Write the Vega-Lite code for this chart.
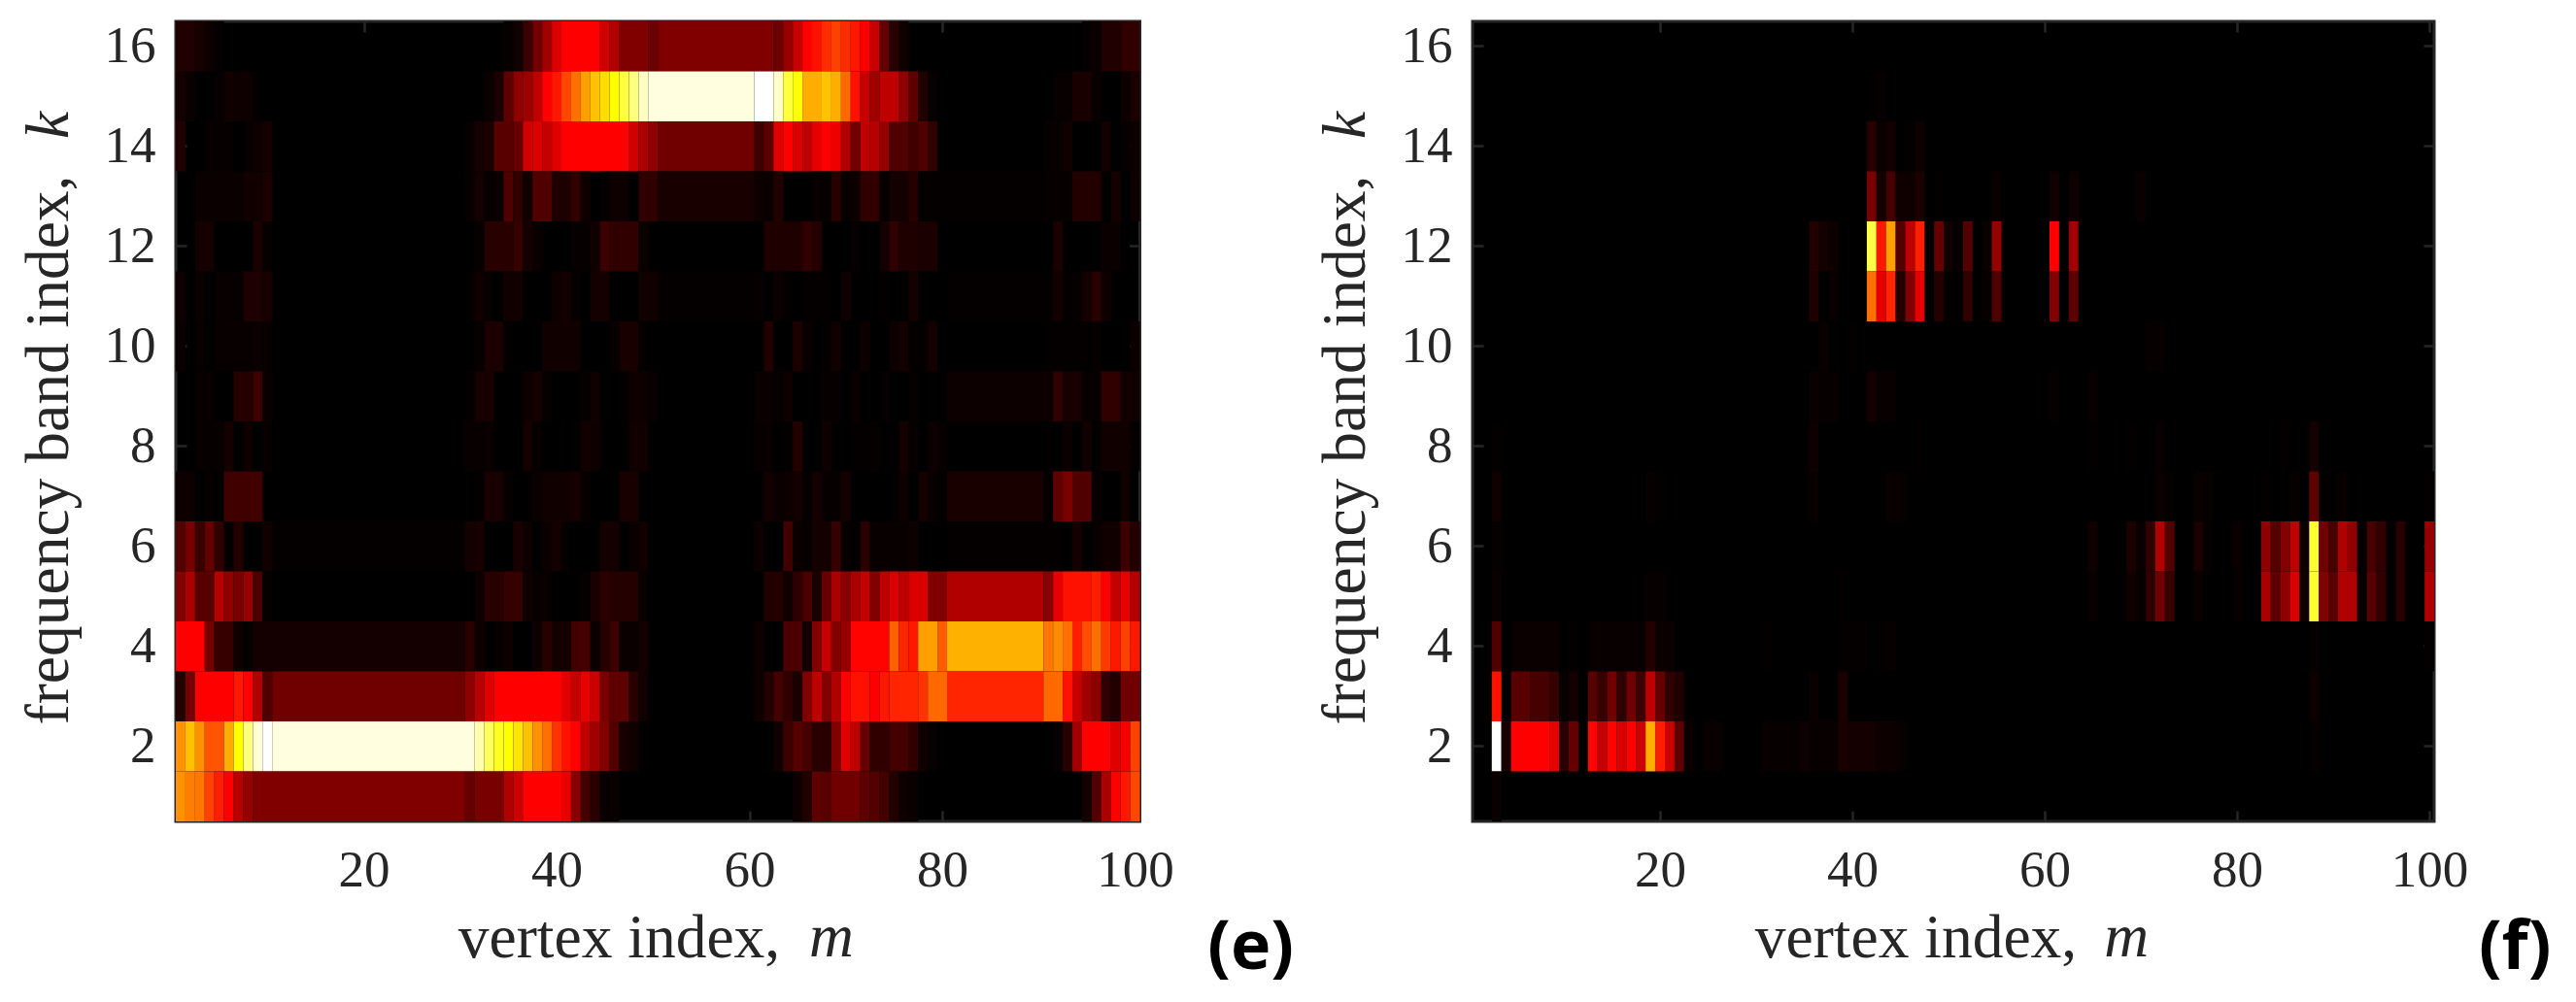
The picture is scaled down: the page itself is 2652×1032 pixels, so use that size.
{"$schema":"https://vega.github.io/schema/vega-lite/v6.json","background":"white","padding":{"left":16,"top":19,"right":0,"bottom":0},"bounds":"flush","spacing":342,
"config":{"view":{"fill":"#000","stroke":"#262626","strokeWidth":3},"font":"Liberation Serif","axis":{"grid":false,"domain":false,"tickColor":"#262626","tickWidth":2.5,"tickSize":-11,"labelFont":"Liberation Serif","labelFontSize":53,"labelColor":"#262626","titleFont":"Liberation Serif","titleFontSize":63.5,"titleFontWeight":"normal","titleColor":"#262626","zindex":1}},
"hconcat":[{"width":992.5,"height":824,"data":{"values":[
{"k":16,"a":0.5,"b":2.5,"v":4.7},{"k":16,"a":2.5,"b":3.5,"v":3.5},{"k":16,"a":3.5,"b":4.5,"v":2},{"k":16,"a":4.5,"b":5.5,"v":1},{"k":16,"a":34.5,"b":35.5,"v":1},{"k":16,"a":35.5,"b":36.5,"v":2.5},{"k":16,"a":36.5,"b":37.5,"v":8.5},{"k":16,"a":37.5,"b":38.5,"v":16.5},{"k":16,"a":38.5,"b":39.5,"v":23.5},{"k":16,"a":39.5,"b":40.5,"v":31.8},{"k":16,"a":40.5,"b":44.5,"v":37.5},{"k":16,"a":44.5,"b":45.5,"v":30.6},{"k":16,"a":45.5,"b":46.5,"v":26},{"k":16,"a":46.5,"b":49.5,"v":18.8},{"k":16,"a":49.5,"b":50.5,"v":15.6},{"k":16,"a":50.5,"b":62.5,"v":18.8},{"k":16,"a":62.5,"b":63.5,"v":16},{"k":16,"a":63.5,"b":64.5,"v":22.3},{"k":16,"a":64.5,"b":65.5,"v":29.4},{"k":16,"a":65.5,"b":66.5,"v":37.5},{"k":16,"a":66.5,"b":67.5,"v":40},{"k":16,"a":67.5,"b":68.5,"v":44},{"k":16,"a":68.5,"b":69.5,"v":47},{"k":16,"a":69.5,"b":70.5,"v":44},{"k":16,"a":70.5,"b":71.5,"v":41},{"k":16,"a":71.5,"b":72.5,"v":37.5},{"k":16,"a":72.5,"b":73.5,"v":29.4},{"k":16,"a":73.5,"b":74.5,"v":14.7},{"k":16,"a":74.5,"b":75.5,"v":5.9},{"k":16,"a":75.5,"b":76.5,"v":2.4},{"k":16,"a":94.5,"b":95.5,"v":1},{"k":16,"a":95.5,"b":96.5,"v":1.5},{"k":16,"a":96.5,"b":98.5,"v":4.7},{"k":16,"a":98.5,"b":100.5,"v":7},
{"k":15,"a":0.5,"b":1.5,"v":3},{"k":15,"a":1.5,"b":2.5,"v":1.5},{"k":15,"a":4.5,"b":5.5,"v":1},{"k":15,"a":5.5,"b":6.5,"v":2.5},{"k":15,"a":6.5,"b":8.5,"v":2},{"k":15,"a":8.5,"b":9.5,"v":0.7},{"k":15,"a":32.5,"b":33.5,"v":1.5},{"k":15,"a":33.5,"b":34.5,"v":4},{"k":15,"a":34.5,"b":35.5,"v":14},{"k":15,"a":35.5,"b":36.5,"v":21},{"k":15,"a":36.5,"b":37.5,"v":23},{"k":15,"a":37.5,"b":38.5,"v":28},{"k":15,"a":38.5,"b":39.5,"v":37.5},{"k":15,"a":39.5,"b":40.5,"v":41},{"k":15,"a":40.5,"b":41.5,"v":48},{"k":15,"a":41.5,"b":42.5,"v":54},{"k":15,"a":42.5,"b":43.5,"v":61},{"k":15,"a":43.5,"b":44.5,"v":66},{"k":15,"a":44.5,"b":45.5,"v":70},{"k":15,"a":45.5,"b":46.5,"v":75},{"k":15,"a":46.5,"b":47.5,"v":81},{"k":15,"a":47.5,"b":48.5,"v":87.5},{"k":15,"a":48.5,"b":49.5,"v":94},{"k":15,"a":49.5,"b":60.5,"v":97},{"k":15,"a":60.5,"b":62.5,"v":100},{"k":15,"a":62.5,"b":63.5,"v":95},{"k":15,"a":63.5,"b":64.5,"v":81},{"k":15,"a":64.5,"b":65.5,"v":75},{"k":15,"a":65.5,"b":67.5,"v":63},{"k":15,"a":67.5,"b":68.5,"v":66},{"k":15,"a":68.5,"b":69.5,"v":63},{"k":15,"a":69.5,"b":70.5,"v":53},{"k":15,"a":70.5,"b":71.5,"v":40},{"k":15,"a":71.5,"b":72.5,"v":29},{"k":15,"a":72.5,"b":73.5,"v":23.5},{"k":15,"a":73.5,"b":75.5,"v":28},{"k":15,"a":75.5,"b":76.5,"v":21},{"k":15,"a":76.5,"b":77.5,"v":14},{"k":15,"a":77.5,"b":78.5,"v":4.7},{"k":15,"a":78.5,"b":79.5,"v":1},{"k":15,"a":91.5,"b":92.5,"v":1},{"k":15,"a":92.5,"b":93.5,"v":1.2},{"k":15,"a":93.5,"b":95.5,"v":3.5},{"k":15,"a":95.5,"b":96.5,"v":1.2},{"k":15,"a":98.5,"b":99.5,"v":2},{"k":15,"a":99.5,"b":100.5,"v":4},
{"k":14,"a":0.5,"b":1.5,"v":4.7},{"k":14,"a":3.5,"b":6.5,"v":1},{"k":14,"a":7.5,"b":8.5,"v":1},{"k":14,"a":8.5,"b":9.5,"v":2},{"k":14,"a":9.5,"b":10.5,"v":3},{"k":14,"a":30.5,"b":31.5,"v":1},{"k":14,"a":31.5,"b":32.5,"v":3},{"k":14,"a":32.5,"b":33.5,"v":4},{"k":14,"a":33.5,"b":35.5,"v":13},{"k":14,"a":35.5,"b":36.5,"v":15},{"k":14,"a":36.5,"b":37.5,"v":30.6},{"k":14,"a":37.5,"b":38.5,"v":32},{"k":14,"a":38.5,"b":39.5,"v":29},{"k":14,"a":39.5,"b":40.5,"v":33},{"k":14,"a":40.5,"b":47.5,"v":37.5},{"k":14,"a":47.5,"b":48.5,"v":31},{"k":14,"a":48.5,"b":49.5,"v":25},{"k":14,"a":49.5,"b":50.5,"v":21},{"k":14,"a":50.5,"b":60.5,"v":16.5},{"k":14,"a":60.5,"b":61.5,"v":9.4},{"k":14,"a":61.5,"b":62.5,"v":14},{"k":14,"a":62.5,"b":63.5,"v":33},{"k":14,"a":63.5,"b":64.5,"v":37.5},{"k":14,"a":64.5,"b":65.5,"v":32},{"k":14,"a":65.5,"b":66.5,"v":28},{"k":14,"a":66.5,"b":67.5,"v":34},{"k":14,"a":67.5,"b":68.5,"v":37.5},{"k":14,"a":68.5,"b":69.5,"v":35},{"k":14,"a":69.5,"b":70.5,"v":26},{"k":14,"a":70.5,"b":71.5,"v":16.5},{"k":14,"a":71.5,"b":72.5,"v":28},{"k":14,"a":72.5,"b":73.5,"v":27},{"k":14,"a":73.5,"b":74.5,"v":22},{"k":14,"a":74.5,"b":76.5,"v":11.8},{"k":14,"a":76.5,"b":77.5,"v":9.4},{"k":14,"a":77.5,"b":78.5,"v":11.8},{"k":14,"a":78.5,"b":79.5,"v":7},{"k":14,"a":90.5,"b":92.5,"v":1},{"k":14,"a":92.5,"b":93.5,"v":2.5},{"k":14,"a":96.5,"b":97.5,"v":3},{"k":14,"a":98.5,"b":99.5,"v":1},{"k":14,"a":99.5,"b":100.5,"v":2},
{"k":13,"a":2.5,"b":7.5,"v":1.5},{"k":13,"a":7.5,"b":9.5,"v":2.5},{"k":13,"a":9.5,"b":10.5,"v":4},{"k":13,"a":30.5,"b":31.5,"v":1},{"k":13,"a":31.5,"b":32.5,"v":3},{"k":13,"a":32.5,"b":33.5,"v":1},{"k":13,"a":33.5,"b":34.5,"v":1.5},{"k":13,"a":34.5,"b":35.5,"v":11.8},{"k":13,"a":35.5,"b":36.5,"v":7},{"k":13,"a":36.5,"b":37.5,"v":2.5},{"k":13,"a":37.5,"b":39.5,"v":11.8},{"k":13,"a":39.5,"b":41.5,"v":4.5},{"k":13,"a":41.5,"b":42.5,"v":7},{"k":13,"a":42.5,"b":43.5,"v":2},{"k":13,"a":44.5,"b":45.5,"v":1},{"k":13,"a":45.5,"b":47.5,"v":2},{"k":13,"a":48.5,"b":50.5,"v":7},{"k":13,"a":50.5,"b":60.5,"v":3.5},{"k":13,"a":60.5,"b":61.5,"v":2},{"k":13,"a":61.5,"b":62.5,"v":1.5},{"k":13,"a":62.5,"b":63.5,"v":4.7},{"k":13,"a":66.5,"b":68.5,"v":1},{"k":13,"a":68.5,"b":69.5,"v":6},{"k":13,"a":69.5,"b":70.5,"v":1},{"k":13,"a":70.5,"b":71.5,"v":2},{"k":13,"a":71.5,"b":73.5,"v":7},{"k":13,"a":73.5,"b":74.5,"v":1},{"k":13,"a":74.5,"b":76.5,"v":3},{"k":13,"a":76.5,"b":77.5,"v":5.5},{"k":13,"a":77.5,"b":90.5,"v":0.7},{"k":13,"a":90.5,"b":93.5,"v":1},{"k":13,"a":93.5,"b":96.5,"v":5},{"k":13,"a":97.5,"b":98.5,"v":3},{"k":13,"a":99.5,"b":100.5,"v":2},
{"k":12,"a":2.5,"b":4.5,"v":3},{"k":12,"a":8.5,"b":9.5,"v":4},{"k":12,"a":9.5,"b":10.5,"v":1},{"k":12,"a":31.5,"b":32.5,"v":1},{"k":12,"a":32.5,"b":35.5,"v":6},{"k":12,"a":35.5,"b":36.5,"v":8},{"k":12,"a":36.5,"b":37.5,"v":3},{"k":12,"a":37.5,"b":38.5,"v":1.5},{"k":12,"a":41.5,"b":43.5,"v":1},{"k":12,"a":43.5,"b":44.5,"v":2.5},{"k":12,"a":44.5,"b":45.5,"v":9},{"k":12,"a":45.5,"b":48.5,"v":7},{"k":12,"a":48.5,"b":49.5,"v":1.5},{"k":12,"a":61.5,"b":65.5,"v":4.5},{"k":12,"a":65.5,"b":66.5,"v":7},{"k":12,"a":66.5,"b":67.5,"v":5},{"k":12,"a":70.5,"b":71.5,"v":1},{"k":12,"a":73.5,"b":74.5,"v":3},{"k":12,"a":74.5,"b":75.5,"v":7},{"k":12,"a":75.5,"b":77.5,"v":4.5},{"k":12,"a":77.5,"b":79.5,"v":4},{"k":12,"a":91.5,"b":92.5,"v":4},{"k":12,"a":96.5,"b":98.5,"v":1.5},
{"k":11,"a":0.5,"b":1.5,"v":2},{"k":11,"a":2.5,"b":3.5,"v":1.5},{"k":11,"a":4.5,"b":5.5,"v":1.2},{"k":11,"a":5.5,"b":7.5,"v":1},{"k":11,"a":7.5,"b":9.5,"v":4.5},{"k":11,"a":9.5,"b":10.5,"v":3.5},{"k":11,"a":30.5,"b":31.5,"v":0.7},{"k":11,"a":31.5,"b":32.5,"v":2.5},{"k":11,"a":32.5,"b":33.5,"v":1},{"k":11,"a":34.5,"b":36.5,"v":2.5},{"k":11,"a":39.5,"b":40.5,"v":2},{"k":11,"a":40.5,"b":41.5,"v":3},{"k":11,"a":41.5,"b":42.5,"v":1},{"k":11,"a":43.5,"b":45.5,"v":3},{"k":11,"a":48.5,"b":50.5,"v":2.5},{"k":11,"a":50.5,"b":60.5,"v":0.7},{"k":11,"a":60.5,"b":61.5,"v":1},{"k":11,"a":62.5,"b":63.5,"v":1.5},{"k":11,"a":63.5,"b":64.5,"v":0.7},{"k":11,"a":65.5,"b":68.5,"v":0.7},{"k":11,"a":69.5,"b":70.5,"v":2},{"k":11,"a":73.5,"b":74.5,"v":0.7},{"k":11,"a":76.5,"b":77.5,"v":3},{"k":11,"a":80.5,"b":91.5,"v":0.8},{"k":11,"a":91.5,"b":92.5,"v":2.5},{"k":11,"a":92.5,"b":93.5,"v":0.7},{"k":11,"a":93.5,"b":94.5,"v":1},{"k":11,"a":94.5,"b":95.5,"v":3},{"k":11,"a":95.5,"b":96.5,"v":6},{"k":11,"a":96.5,"b":97.5,"v":2},
{"k":10,"a":0.5,"b":1.5,"v":1.5},{"k":10,"a":2.5,"b":3.5,"v":1},{"k":10,"a":4.5,"b":8.5,"v":1.2},{"k":10,"a":8.5,"b":9.5,"v":1.5},{"k":10,"a":9.5,"b":10.5,"v":1.2},{"k":10,"a":31.5,"b":32.5,"v":1},{"k":10,"a":32.5,"b":34.5,"v":4},{"k":10,"a":34.5,"b":35.5,"v":0.7},{"k":10,"a":38.5,"b":42.5,"v":2.5},{"k":10,"a":45.5,"b":46.5,"v":1.2},{"k":10,"a":46.5,"b":48.5,"v":3.5},{"k":10,"a":48.5,"b":49.5,"v":0.7},{"k":10,"a":61.5,"b":62.5,"v":5},{"k":10,"a":64.5,"b":65.5,"v":4},{"k":10,"a":65.5,"b":66.5,"v":1.2},{"k":10,"a":67.5,"b":68.5,"v":0.7},{"k":10,"a":68.5,"b":69.5,"v":2.5},{"k":10,"a":71.5,"b":72.5,"v":2},{"k":10,"a":74.5,"b":75.5,"v":2},{"k":10,"a":75.5,"b":76.5,"v":3},{"k":10,"a":76.5,"b":78.5,"v":0.7},{"k":10,"a":78.5,"b":79.5,"v":3},{"k":10,"a":90.5,"b":95.5,"v":0.7},{"k":10,"a":95.5,"b":96.5,"v":1},{"k":10,"a":99.5,"b":100.5,"v":1.5},
{"k":9,"a":2.5,"b":4.5,"v":1},{"k":9,"a":6.5,"b":8.5,"v":5.5},{"k":9,"a":8.5,"b":9.5,"v":9},{"k":9,"a":9.5,"b":10.5,"v":1.5},{"k":9,"a":30.5,"b":31.5,"v":0.7},{"k":9,"a":31.5,"b":33.5,"v":3.5},{"k":9,"a":36.5,"b":37.5,"v":2},{"k":9,"a":37.5,"b":38.5,"v":3},{"k":9,"a":38.5,"b":39.5,"v":1},{"k":9,"a":42.5,"b":43.5,"v":1},{"k":9,"a":43.5,"b":44.5,"v":2.5},{"k":9,"a":46.5,"b":47.5,"v":0.7},{"k":9,"a":47.5,"b":49.5,"v":2},{"k":9,"a":49.5,"b":50.5,"v":1},{"k":9,"a":60.5,"b":62.5,"v":1.5},{"k":9,"a":62.5,"b":63.5,"v":1},{"k":9,"a":63.5,"b":64.5,"v":2},{"k":9,"a":67.5,"b":69.5,"v":1},{"k":9,"a":70.5,"b":71.5,"v":1.5},{"k":9,"a":73.5,"b":74.5,"v":1},{"k":9,"a":76.5,"b":77.5,"v":1},{"k":9,"a":80.5,"b":91.5,"v":1.8},{"k":9,"a":91.5,"b":92.5,"v":7},{"k":9,"a":92.5,"b":94.5,"v":3.5},{"k":9,"a":94.5,"b":96.5,"v":1},{"k":9,"a":96.5,"b":98.5,"v":7},{"k":9,"a":98.5,"b":100.5,"v":2.5},
{"k":8,"a":2.5,"b":5.5,"v":1},{"k":8,"a":5.5,"b":6.5,"v":3},{"k":8,"a":7.5,"b":8.5,"v":2},{"k":8,"a":9.5,"b":10.5,"v":1.2},{"k":8,"a":30.5,"b":32.5,"v":1.2},{"k":8,"a":32.5,"b":33.5,"v":1.5},{"k":8,"a":36.5,"b":37.5,"v":3},{"k":8,"a":37.5,"b":38.5,"v":1},{"k":8,"a":41.5,"b":42.5,"v":0.7},{"k":8,"a":42.5,"b":43.5,"v":2.5},{"k":8,"a":43.5,"b":44.5,"v":2},{"k":8,"a":47.5,"b":49.5,"v":2.5},{"k":8,"a":60.5,"b":62.5,"v":1.2},{"k":8,"a":63.5,"b":64.5,"v":0.8},{"k":8,"a":64.5,"b":65.5,"v":5},{"k":8,"a":67.5,"b":68.5,"v":2},{"k":8,"a":70.5,"b":72.5,"v":0.8},{"k":8,"a":72.5,"b":73.5,"v":1},{"k":8,"a":75.5,"b":76.5,"v":3},{"k":8,"a":76.5,"b":77.5,"v":1},{"k":8,"a":78.5,"b":79.5,"v":1.8},{"k":8,"a":79.5,"b":80.5,"v":1},{"k":8,"a":90.5,"b":91.5,"v":0.8},{"k":8,"a":92.5,"b":93.5,"v":1.5},{"k":8,"a":94.5,"b":95.5,"v":2.5},{"k":8,"a":95.5,"b":96.5,"v":0.7},{"k":8,"a":96.5,"b":99.5,"v":2.5},{"k":8,"a":99.5,"b":100.5,"v":0.8},
{"k":7,"a":0.5,"b":1.5,"v":1.8},{"k":7,"a":1.5,"b":2.5,"v":2},{"k":7,"a":3.5,"b":4.5,"v":1},{"k":7,"a":5.5,"b":9.5,"v":9.4},{"k":7,"a":31.5,"b":32.5,"v":0.7},{"k":7,"a":32.5,"b":34.5,"v":3.5},{"k":7,"a":34.5,"b":35.5,"v":1},{"k":7,"a":37.5,"b":38.5,"v":1.5},{"k":7,"a":38.5,"b":41.5,"v":2.5},{"k":7,"a":41.5,"b":42.5,"v":3},{"k":7,"a":42.5,"b":43.5,"v":1},{"k":7,"a":46.5,"b":48.5,"v":3.5},{"k":7,"a":61.5,"b":62.5,"v":3},{"k":7,"a":62.5,"b":63.5,"v":1.5},{"k":7,"a":63.5,"b":64.5,"v":2},{"k":7,"a":64.5,"b":65.5,"v":3},{"k":7,"a":65.5,"b":66.5,"v":1},{"k":7,"a":66.5,"b":67.5,"v":3},{"k":7,"a":67.5,"b":69.5,"v":1},{"k":7,"a":69.5,"b":70.5,"v":3},{"k":7,"a":75.5,"b":76.5,"v":2},{"k":7,"a":77.5,"b":78.5,"v":3},{"k":7,"a":78.5,"b":79.5,"v":1.5},{"k":7,"a":79.5,"b":80.5,"v":0.7},{"k":7,"a":80.5,"b":90.5,"v":3.5},{"k":7,"a":90.5,"b":91.5,"v":0.8},{"k":7,"a":91.5,"b":92.5,"v":14},{"k":7,"a":92.5,"b":93.5,"v":17.6},{"k":7,"a":93.5,"b":95.5,"v":11.8},{"k":7,"a":95.5,"b":96.5,"v":1},{"k":7,"a":98.5,"b":99.5,"v":2.5},
{"k":6,"a":0.5,"b":1.5,"v":12},{"k":6,"a":1.5,"b":2.5,"v":17},{"k":6,"a":2.5,"b":3.5,"v":8},{"k":6,"a":3.5,"b":4.5,"v":15},{"k":6,"a":4.5,"b":5.5,"v":7},{"k":6,"a":5.5,"b":6.5,"v":0.7},{"k":6,"a":6.5,"b":7.5,"v":5},{"k":6,"a":9.5,"b":10.5,"v":2.5},{"k":6,"a":10.5,"b":30.5,"v":0.8},{"k":6,"a":30.5,"b":31.5,"v":3},{"k":6,"a":31.5,"b":32.5,"v":3.5},{"k":6,"a":35.5,"b":36.5,"v":3.5},{"k":6,"a":36.5,"b":37.5,"v":2},{"k":6,"a":38.5,"b":39.5,"v":1.5},{"k":6,"a":39.5,"b":40.5,"v":3},{"k":6,"a":40.5,"b":41.5,"v":0.8},{"k":6,"a":44.5,"b":46.5,"v":3},{"k":6,"a":47.5,"b":48.5,"v":1.5},{"k":6,"a":48.5,"b":49.5,"v":2.5},{"k":6,"a":60.5,"b":61.5,"v":1.8},{"k":6,"a":63.5,"b":64.5,"v":9.4},{"k":6,"a":64.5,"b":65.5,"v":1.5},{"k":6,"a":65.5,"b":66.5,"v":1},{"k":6,"a":66.5,"b":68.5,"v":3},{"k":6,"a":68.5,"b":69.5,"v":8},{"k":6,"a":69.5,"b":70.5,"v":1.2},{"k":6,"a":70.5,"b":71.5,"v":0.8},{"k":6,"a":71.5,"b":72.5,"v":6},{"k":6,"a":72.5,"b":76.5,"v":1.2},{"k":6,"a":76.5,"b":77.5,"v":1.8},{"k":6,"a":80.5,"b":92.5,"v":0.8},{"k":6,"a":93.5,"b":94.5,"v":3},{"k":6,"a":95.5,"b":96.5,"v":1.2},{"k":6,"a":96.5,"b":98.5,"v":2.5},{"k":6,"a":98.5,"b":99.5,"v":9},{"k":6,"a":99.5,"b":100.5,"v":5},
{"k":5,"a":0.5,"b":1.5,"v":19},{"k":5,"a":1.5,"b":2.5,"v":25},{"k":5,"a":2.5,"b":4.5,"v":13},{"k":5,"a":4.5,"b":5.5,"v":27},{"k":5,"a":5.5,"b":6.5,"v":21},{"k":5,"a":6.5,"b":7.5,"v":18},{"k":5,"a":7.5,"b":8.5,"v":22},{"k":5,"a":8.5,"b":9.5,"v":11},{"k":5,"a":9.5,"b":10.5,"v":1},{"k":5,"a":31.5,"b":32.5,"v":1.8},{"k":5,"a":32.5,"b":34.5,"v":6},{"k":5,"a":34.5,"b":36.5,"v":8},{"k":5,"a":36.5,"b":37.5,"v":2.5},{"k":5,"a":37.5,"b":39.5,"v":1.2},{"k":5,"a":42.5,"b":43.5,"v":1},{"k":5,"a":43.5,"b":44.5,"v":4},{"k":5,"a":44.5,"b":45.5,"v":6.5},{"k":5,"a":45.5,"b":48.5,"v":5.5},{"k":5,"a":48.5,"b":49.5,"v":1.2},{"k":5,"a":61.5,"b":63.5,"v":5},{"k":5,"a":63.5,"b":64.5,"v":2.5},{"k":5,"a":64.5,"b":65.5,"v":7},{"k":5,"a":65.5,"b":66.5,"v":11},{"k":5,"a":66.5,"b":67.5,"v":4},{"k":5,"a":67.5,"b":68.5,"v":15},{"k":5,"a":68.5,"b":69.5,"v":25},{"k":5,"a":69.5,"b":70.5,"v":20},{"k":5,"a":70.5,"b":71.5,"v":25},{"k":5,"a":71.5,"b":72.5,"v":29},{"k":5,"a":72.5,"b":73.5,"v":19},{"k":5,"a":73.5,"b":74.5,"v":28},{"k":5,"a":74.5,"b":75.5,"v":32},{"k":5,"a":75.5,"b":76.5,"v":28},{"k":5,"a":76.5,"b":78.5,"v":32},{"k":5,"a":78.5,"b":80.5,"v":18.8},{"k":5,"a":80.5,"b":90.5,"v":26},{"k":5,"a":90.5,"b":91.5,"v":20},{"k":5,"a":91.5,"b":92.5,"v":34},{"k":5,"a":92.5,"b":95.5,"v":40},{"k":5,"a":95.5,"b":96.5,"v":42},{"k":5,"a":96.5,"b":97.5,"v":37.5},{"k":5,"a":97.5,"b":98.5,"v":29},{"k":5,"a":98.5,"b":99.5,"v":34},{"k":5,"a":99.5,"b":100.5,"v":26},
{"k":4,"a":0.5,"b":3.5,"v":37.5},{"k":4,"a":3.5,"b":4.5,"v":17},{"k":4,"a":4.5,"b":6.5,"v":8},{"k":4,"a":6.5,"b":7.5,"v":2.5},{"k":4,"a":7.5,"b":8.5,"v":0.7},{"k":4,"a":8.5,"b":30.5,"v":3},{"k":4,"a":30.5,"b":31.5,"v":6},{"k":4,"a":31.5,"b":32.5,"v":2.5},{"k":4,"a":33.5,"b":34.5,"v":1},{"k":4,"a":34.5,"b":35.5,"v":2},{"k":4,"a":37.5,"b":38.5,"v":2},{"k":4,"a":38.5,"b":39.5,"v":6},{"k":4,"a":39.5,"b":41.5,"v":3},{"k":4,"a":41.5,"b":43.5,"v":10},{"k":4,"a":43.5,"b":44.5,"v":1.5},{"k":4,"a":44.5,"b":45.5,"v":6},{"k":4,"a":45.5,"b":46.5,"v":9},{"k":4,"a":46.5,"b":48.5,"v":1.5},{"k":4,"a":48.5,"b":49.5,"v":3},{"k":4,"a":60.5,"b":61.5,"v":2},{"k":4,"a":63.5,"b":65.5,"v":11},{"k":4,"a":65.5,"b":66.5,"v":3},{"k":4,"a":66.5,"b":67.5,"v":19},{"k":4,"a":67.5,"b":68.5,"v":29},{"k":4,"a":68.5,"b":69.5,"v":19},{"k":4,"a":69.5,"b":70.5,"v":22},{"k":4,"a":70.5,"b":74.5,"v":38},{"k":4,"a":74.5,"b":75.5,"v":51.6},{"k":4,"a":75.5,"b":76.5,"v":43},{"k":4,"a":76.5,"b":77.5,"v":41},{"k":4,"a":77.5,"b":79.5,"v":61},{"k":4,"a":79.5,"b":80.5,"v":51},{"k":4,"a":80.5,"b":90.5,"v":63.5},{"k":4,"a":90.5,"b":91.5,"v":55},{"k":4,"a":91.5,"b":92.5,"v":58},{"k":4,"a":92.5,"b":93.5,"v":54},{"k":4,"a":93.5,"b":94.5,"v":42},{"k":4,"a":94.5,"b":95.5,"v":49},{"k":4,"a":95.5,"b":96.5,"v":54},{"k":4,"a":96.5,"b":97.5,"v":46},{"k":4,"a":97.5,"b":98.5,"v":41},{"k":4,"a":98.5,"b":99.5,"v":47},{"k":4,"a":99.5,"b":100.5,"v":41},
{"k":3,"a":0.5,"b":1.5,"v":5},{"k":3,"a":1.5,"b":2.5,"v":17},{"k":3,"a":2.5,"b":6.5,"v":37.5},{"k":3,"a":6.5,"b":7.5,"v":41},{"k":3,"a":7.5,"b":8.5,"v":37.5},{"k":3,"a":8.5,"b":9.5,"v":26},{"k":3,"a":9.5,"b":10.5,"v":11.8},{"k":3,"a":10.5,"b":30.5,"v":16.5},{"k":3,"a":30.5,"b":31.5,"v":21},{"k":3,"a":31.5,"b":32.5,"v":27},{"k":3,"a":32.5,"b":33.5,"v":33},{"k":3,"a":33.5,"b":40.5,"v":37.5},{"k":3,"a":40.5,"b":41.5,"v":33},{"k":3,"a":41.5,"b":42.5,"v":29},{"k":3,"a":42.5,"b":43.5,"v":34},{"k":3,"a":43.5,"b":44.5,"v":30},{"k":3,"a":44.5,"b":45.5,"v":18},{"k":3,"a":45.5,"b":47.5,"v":14},{"k":3,"a":47.5,"b":48.5,"v":6},{"k":3,"a":48.5,"b":49.5,"v":2.5},{"k":3,"a":60.5,"b":61.5,"v":2},{"k":3,"a":61.5,"b":62.5,"v":5},{"k":3,"a":62.5,"b":63.5,"v":10},{"k":3,"a":63.5,"b":64.5,"v":7},{"k":3,"a":64.5,"b":65.5,"v":4},{"k":3,"a":65.5,"b":66.5,"v":19},{"k":3,"a":66.5,"b":67.5,"v":28},{"k":3,"a":67.5,"b":68.5,"v":19},{"k":3,"a":68.5,"b":69.5,"v":26},{"k":3,"a":69.5,"b":70.5,"v":37.5},{"k":3,"a":70.5,"b":72.5,"v":40},{"k":3,"a":72.5,"b":73.5,"v":37.5},{"k":3,"a":73.5,"b":74.5,"v":41},{"k":3,"a":74.5,"b":77.5,"v":43},{"k":3,"a":77.5,"b":78.5,"v":45},{"k":3,"a":78.5,"b":80.5,"v":53},{"k":3,"a":80.5,"b":90.5,"v":43},{"k":3,"a":90.5,"b":92.5,"v":53},{"k":3,"a":92.5,"b":93.5,"v":40},{"k":3,"a":93.5,"b":94.5,"v":29},{"k":3,"a":94.5,"b":95.5,"v":23.5},{"k":3,"a":95.5,"b":96.5,"v":20},{"k":3,"a":96.5,"b":97.5,"v":7},{"k":3,"a":97.5,"b":98.5,"v":5},{"k":3,"a":98.5,"b":100.5,"v":16.5},
{"k":2,"a":0.5,"b":1.5,"v":59},{"k":2,"a":1.5,"b":2.5,"v":66},{"k":2,"a":2.5,"b":3.5,"v":59},{"k":2,"a":3.5,"b":5.5,"v":50},{"k":2,"a":5.5,"b":6.5,"v":63},{"k":2,"a":6.5,"b":7.5,"v":75},{"k":2,"a":7.5,"b":8.5,"v":87.5},{"k":2,"a":8.5,"b":9.5,"v":96},{"k":2,"a":9.5,"b":10.5,"v":100},{"k":2,"a":10.5,"b":31.5,"v":97},{"k":2,"a":31.5,"b":32.5,"v":92},{"k":2,"a":32.5,"b":33.5,"v":84},{"k":2,"a":33.5,"b":34.5,"v":78},{"k":2,"a":34.5,"b":35.5,"v":75},{"k":2,"a":35.5,"b":36.5,"v":71},{"k":2,"a":36.5,"b":37.5,"v":66},{"k":2,"a":37.5,"b":38.5,"v":59},{"k":2,"a":38.5,"b":39.5,"v":54},{"k":2,"a":39.5,"b":40.5,"v":45},{"k":2,"a":40.5,"b":41.5,"v":40},{"k":2,"a":41.5,"b":42.5,"v":37.5},{"k":2,"a":42.5,"b":43.5,"v":28},{"k":2,"a":43.5,"b":44.5,"v":23.5},{"k":2,"a":44.5,"b":45.5,"v":19},{"k":2,"a":45.5,"b":46.5,"v":11.8},{"k":2,"a":46.5,"b":47.5,"v":3.5},{"k":2,"a":47.5,"b":48.5,"v":2.4},{"k":2,"a":62.5,"b":63.5,"v":2.5},{"k":2,"a":63.5,"b":64.5,"v":9},{"k":2,"a":64.5,"b":65.5,"v":13},{"k":2,"a":65.5,"b":66.5,"v":10},{"k":2,"a":66.5,"b":68.5,"v":6},{"k":2,"a":68.5,"b":69.5,"v":19},{"k":2,"a":69.5,"b":70.5,"v":33},{"k":2,"a":70.5,"b":71.5,"v":28},{"k":2,"a":71.5,"b":72.5,"v":15},{"k":2,"a":72.5,"b":74.5,"v":7},{"k":2,"a":74.5,"b":76.5,"v":10},{"k":2,"a":76.5,"b":77.5,"v":7},{"k":2,"a":77.5,"b":78.5,"v":2.5},{"k":2,"a":78.5,"b":79.5,"v":1},{"k":2,"a":91.5,"b":92.5,"v":1},{"k":2,"a":92.5,"b":93.5,"v":6},{"k":2,"a":93.5,"b":94.5,"v":23.5},{"k":2,"a":94.5,"b":97.5,"v":37.5},{"k":2,"a":97.5,"b":98.5,"v":33},{"k":2,"a":98.5,"b":99.5,"v":36},{"k":2,"a":99.5,"b":100.5,"v":47},
{"k":1,"a":0.5,"b":1.5,"v":59},{"k":1,"a":1.5,"b":2.5,"v":56},{"k":1,"a":2.5,"b":3.5,"v":55},{"k":1,"a":3.5,"b":4.5,"v":47},{"k":1,"a":4.5,"b":5.5,"v":42},{"k":1,"a":5.5,"b":6.5,"v":37.5},{"k":1,"a":6.5,"b":7.5,"v":27},{"k":1,"a":7.5,"b":8.5,"v":22},{"k":1,"a":8.5,"b":30.5,"v":18.8},{"k":1,"a":30.5,"b":31.5,"v":15},{"k":1,"a":31.5,"b":34.5,"v":17.6},{"k":1,"a":34.5,"b":35.5,"v":26},{"k":1,"a":35.5,"b":36.5,"v":30},{"k":1,"a":36.5,"b":40.5,"v":37.5},{"k":1,"a":40.5,"b":41.5,"v":34},{"k":1,"a":41.5,"b":42.5,"v":20},{"k":1,"a":42.5,"b":43.5,"v":10},{"k":1,"a":43.5,"b":44.5,"v":6},{"k":1,"a":44.5,"b":46.5,"v":1.2},{"k":1,"a":64.5,"b":65.5,"v":2},{"k":1,"a":65.5,"b":66.5,"v":5},{"k":1,"a":66.5,"b":67.5,"v":14},{"k":1,"a":67.5,"b":68.5,"v":13},{"k":1,"a":68.5,"b":71.5,"v":16.5},{"k":1,"a":71.5,"b":72.5,"v":14},{"k":1,"a":72.5,"b":73.5,"v":12},{"k":1,"a":73.5,"b":74.5,"v":10},{"k":1,"a":74.5,"b":75.5,"v":5},{"k":1,"a":75.5,"b":76.5,"v":2},{"k":1,"a":76.5,"b":77.5,"v":1.5},{"k":1,"a":94.5,"b":95.5,"v":3},{"k":1,"a":95.5,"b":96.5,"v":11.8},{"k":1,"a":96.5,"b":97.5,"v":25},{"k":1,"a":97.5,"b":98.5,"v":37.5},{"k":1,"a":98.5,"b":99.5,"v":41},{"k":1,"a":99.5,"b":100.5,"v":48}
]},
"resolve":{"axis":{"x":"independent","y":"independent"}},
"layer":[{"mark":"rect","encoding":{"x":{"field":"a","type":"quantitative","scale":{"domain":[0.5,100.5],"nice":false,"zero":false},"axis":{"values":[20,40,60,80,100],"labelPadding":35,"title":"vertex index,","titleX":456,"titleY":139,"titleBaseline":"alphabetic"}},"x2":{"field":"b"},"y":{"field":"k","type":"ordinal","scale":{"domain":[16,15,14,13,12,11,10,9,8,7,6,5,4,3,2,1],"paddingInner":0,"paddingOuter":0},"axis":{"values":[2,4,6,8,10,12,14,16],"labelPadding":32,"labelAngle":0,"title":"frequency band index,","titleX":-111.5,"titleY":441,"titleAngle":270,"titleBaseline":"alphabetic"}},"color":{"field":"v","type":"quantitative","legend":null,"scale":{"domain":[0,37.5,75,100],"range":["#000000","#ff0000","#ffff00","#ffffff"],"interpolate":"rgb"}}}},
{"data":{"values":[{"t":"m","x":68.5,"k":1}]},"mark":{"type":"text","fontStyle":"italic","fontSize":63.5,"dy":165,"baseline":"alphabetic","color":"#262626"},"encoding":{"text":{"field":"t"},"x":{"field":"x","type":"quantitative","axis":{"orient":"top","values":[20,40,60,80,100],"labels":false,"title":null}},"y":{"field":"k","type":"ordinal","axis":{"orient":"right","values":[2,4,6,8,10,12,14,16],"labels":false,"title":null}}}},
{"data":{"values":[{"t":"k","x":0.5,"k":15}]},"mark":{"type":"text","fontStyle":"italic","fontSize":63.5,"angle":270,"baseline":"alphabetic","dx":-29.75,"dy":-111.5,"color":"#262626"},"encoding":{"text":{"field":"t"},"x":{"field":"x","type":"quantitative","axis":null},"y":{"field":"k","type":"ordinal","axis":null}}},
{"data":{"values":[{"t":"(e)","x":112,"k":1}]},"mark":{"type":"text","font":"Open Sans","fontWeight":"bold","fontSize":70,"dy":157,"color":"#000"},"encoding":{"text":{"field":"t"},"x":{"field":"x","type":"quantitative","axis":null},"y":{"field":"k","type":"ordinal","axis":null}}}]},
{"width":990,"height":824,"data":{"values":[
{"k":15,"a":41.5,"b":42.5,"v":0.7},{"k":15,"a":42.5,"b":43.5,"v":1},
{"k":14,"a":41.5,"b":42.5,"v":6},{"k":14,"a":42.5,"b":43.5,"v":1.5},{"k":14,"a":43.5,"b":44.5,"v":2.5},{"k":14,"a":45.5,"b":46.5,"v":0.7},{"k":14,"a":46.5,"b":47.5,"v":1.8},
{"k":13,"a":41.5,"b":42.5,"v":17.6},{"k":13,"a":42.5,"b":43.5,"v":3},{"k":13,"a":43.5,"b":44.5,"v":10},{"k":13,"a":44.5,"b":46.5,"v":2},{"k":13,"a":46.5,"b":47.5,"v":4},{"k":13,"a":48.5,"b":49.5,"v":0.7},{"k":13,"a":54.5,"b":55.5,"v":1.5},{"k":13,"a":60.5,"b":61.5,"v":2.5},{"k":13,"a":62.5,"b":63.5,"v":2},{"k":13,"a":69.5,"b":70.5,"v":1.5},
{"k":12,"a":35.5,"b":36.5,"v":5},{"k":12,"a":36.5,"b":37.5,"v":3},{"k":12,"a":37.5,"b":38.5,"v":2},{"k":12,"a":41.5,"b":42.5,"v":82},{"k":12,"a":42.5,"b":43.5,"v":41},{"k":12,"a":43.5,"b":44.5,"v":61},{"k":12,"a":44.5,"b":45.5,"v":12},{"k":12,"a":45.5,"b":46.5,"v":28},{"k":12,"a":46.5,"b":47.5,"v":42},{"k":12,"a":48.5,"b":49.5,"v":15},{"k":12,"a":49.5,"b":50.5,"v":2.5},{"k":12,"a":50.5,"b":51.5,"v":1},{"k":12,"a":51.5,"b":52.5,"v":12},{"k":12,"a":53.5,"b":54.5,"v":1.5},{"k":12,"a":54.5,"b":55.5,"v":22},{"k":12,"a":60.5,"b":61.5,"v":37.5},{"k":12,"a":62.5,"b":63.5,"v":23.5},
{"k":11,"a":35.5,"b":36.5,"v":4.5},{"k":11,"a":37.5,"b":38.5,"v":1},{"k":11,"a":41.5,"b":42.5,"v":54},{"k":11,"a":42.5,"b":43.5,"v":34},{"k":11,"a":43.5,"b":44.5,"v":43},{"k":11,"a":44.5,"b":45.5,"v":5},{"k":11,"a":45.5,"b":46.5,"v":19},{"k":11,"a":46.5,"b":47.5,"v":34},{"k":11,"a":48.5,"b":49.5,"v":5.5},{"k":11,"a":49.5,"b":50.5,"v":0.7},{"k":11,"a":51.5,"b":52.5,"v":7},{"k":11,"a":53.5,"b":54.5,"v":1},{"k":11,"a":54.5,"b":55.5,"v":11.5},{"k":11,"a":60.5,"b":61.5,"v":19},{"k":11,"a":62.5,"b":63.5,"v":14},
{"k":10,"a":36.5,"b":37.5,"v":1.2},{"k":10,"a":39.5,"b":40.5,"v":0.8},{"k":10,"a":70.5,"b":72.5,"v":1},
{"k":9,"a":35.5,"b":36.5,"v":1.5},{"k":9,"a":36.5,"b":38.5,"v":1},{"k":9,"a":41.5,"b":42.5,"v":3},{"k":9,"a":42.5,"b":43.5,"v":1},{"k":9,"a":43.5,"b":44.5,"v":1.2},{"k":9,"a":60.5,"b":61.5,"v":1},{"k":9,"a":64.5,"b":65.5,"v":1.2},
{"k":8,"a":2.5,"b":3.5,"v":0.7},{"k":8,"a":35.5,"b":36.5,"v":2},{"k":8,"a":46.5,"b":47.5,"v":0.7},{"k":8,"a":64.5,"b":65.5,"v":0.7},{"k":8,"a":68.5,"b":69.5,"v":0.7},{"k":8,"a":71.5,"b":72.5,"v":1},{"k":8,"a":84.5,"b":85.5,"v":0.7},{"k":8,"a":87.5,"b":88.5,"v":3},
{"k":7,"a":2.5,"b":3.5,"v":2.5},{"k":7,"a":18.5,"b":19.5,"v":1.2},{"k":7,"a":19.5,"b":20.5,"v":0.7},{"k":7,"a":35.5,"b":36.5,"v":1.2},{"k":7,"a":43.5,"b":45.5,"v":1.2},{"k":7,"a":71.5,"b":72.5,"v":1.5},{"k":7,"a":72.5,"b":73.5,"v":1},{"k":7,"a":75.5,"b":77.5,"v":1.2},{"k":7,"a":82.5,"b":83.5,"v":0.8},{"k":7,"a":85.5,"b":86.5,"v":1},{"k":7,"a":87.5,"b":88.5,"v":14},{"k":7,"a":88.5,"b":89.5,"v":0.7},{"k":7,"a":90.5,"b":91.5,"v":1.2},{"k":7,"a":99.5,"b":100.5,"v":0.8},
{"k":6,"a":2.5,"b":3.5,"v":1},{"k":6,"a":64.5,"b":65.5,"v":2.5},{"k":6,"a":68.5,"b":69.5,"v":4},{"k":6,"a":69.5,"b":70.5,"v":1.2},{"k":6,"a":70.5,"b":71.5,"v":7},{"k":6,"a":71.5,"b":72.5,"v":26},{"k":6,"a":72.5,"b":73.5,"v":12},{"k":6,"a":75.5,"b":76.5,"v":4},{"k":6,"a":76.5,"b":77.5,"v":1},{"k":6,"a":79.5,"b":80.5,"v":1.2},{"k":6,"a":82.5,"b":83.5,"v":21},{"k":6,"a":83.5,"b":84.5,"v":12},{"k":6,"a":84.5,"b":85.5,"v":19},{"k":6,"a":85.5,"b":86.5,"v":28},{"k":6,"a":86.5,"b":87.5,"v":2},{"k":6,"a":87.5,"b":88.5,"v":80},{"k":6,"a":88.5,"b":89.5,"v":16.5},{"k":6,"a":89.5,"b":90.5,"v":10.5},{"k":6,"a":90.5,"b":91.5,"v":26},{"k":6,"a":91.5,"b":92.5,"v":21},{"k":6,"a":92.5,"b":93.5,"v":1},{"k":6,"a":93.5,"b":94.5,"v":10.5},{"k":6,"a":94.5,"b":95.5,"v":7},{"k":6,"a":96.5,"b":97.5,"v":6},{"k":6,"a":99.5,"b":100.5,"v":22},
{"k":5,"a":2.5,"b":3.5,"v":1.5},{"k":5,"a":18.5,"b":20.5,"v":1},{"k":5,"a":38.5,"b":39.5,"v":0.8},{"k":5,"a":64.5,"b":65.5,"v":1.2},{"k":5,"a":68.5,"b":69.5,"v":2.5},{"k":5,"a":69.5,"b":70.5,"v":1.2},{"k":5,"a":70.5,"b":71.5,"v":7},{"k":5,"a":71.5,"b":72.5,"v":16.5},{"k":5,"a":72.5,"b":73.5,"v":8},{"k":5,"a":75.5,"b":76.5,"v":1.5},{"k":5,"a":79.5,"b":80.5,"v":1},{"k":5,"a":82.5,"b":83.5,"v":25},{"k":5,"a":83.5,"b":84.5,"v":14},{"k":5,"a":84.5,"b":85.5,"v":21},{"k":5,"a":85.5,"b":86.5,"v":32},{"k":5,"a":86.5,"b":87.5,"v":2.5},{"k":5,"a":87.5,"b":88.5,"v":80},{"k":5,"a":88.5,"b":89.5,"v":19},{"k":5,"a":89.5,"b":90.5,"v":13},{"k":5,"a":90.5,"b":92.5,"v":26},{"k":5,"a":92.5,"b":93.5,"v":1},{"k":5,"a":93.5,"b":94.5,"v":13},{"k":5,"a":94.5,"b":95.5,"v":7},{"k":5,"a":96.5,"b":97.5,"v":6},{"k":5,"a":99.5,"b":100.5,"v":26},
{"k":4,"a":2.5,"b":3.5,"v":11.8},{"k":4,"a":4.5,"b":9.5,"v":1.5},{"k":4,"a":10.5,"b":11.5,"v":0.7},{"k":4,"a":12.5,"b":18.5,"v":1.2},{"k":4,"a":18.5,"b":19.5,"v":5},{"k":4,"a":19.5,"b":21.5,"v":1.5},{"k":4,"a":30.5,"b":31.5,"v":0.7},{"k":4,"a":38.5,"b":41.5,"v":0.7},{"k":4,"a":42.5,"b":43.5,"v":0.7},{"k":4,"a":43.5,"b":44.5,"v":1},{"k":4,"a":87.5,"b":88.5,"v":1.2},{"k":4,"a":99.5,"b":100.5,"v":0.7},
{"k":3,"a":2.5,"b":3.5,"v":40},{"k":3,"a":4.5,"b":6.5,"v":13},{"k":3,"a":6.5,"b":8.5,"v":10.5},{"k":3,"a":8.5,"b":9.5,"v":8},{"k":3,"a":9.5,"b":10.5,"v":1},{"k":3,"a":10.5,"b":11.5,"v":3},{"k":3,"a":12.5,"b":13.5,"v":13},{"k":3,"a":13.5,"b":14.5,"v":8},{"k":3,"a":14.5,"b":15.5,"v":16.5},{"k":3,"a":15.5,"b":16.5,"v":7},{"k":3,"a":16.5,"b":17.5,"v":16.5},{"k":3,"a":17.5,"b":18.5,"v":9},{"k":3,"a":18.5,"b":19.5,"v":28},{"k":3,"a":19.5,"b":20.5,"v":15},{"k":3,"a":20.5,"b":21.5,"v":7},{"k":3,"a":21.5,"b":22.5,"v":4.7},{"k":3,"a":35.5,"b":36.5,"v":1.5},{"k":3,"a":38.5,"b":39.5,"v":4},{"k":3,"a":87.5,"b":88.5,"v":2},
{"k":2,"a":2.5,"b":3.5,"v":100},{"k":2,"a":3.5,"b":4.5,"v":3.5},{"k":2,"a":4.5,"b":8.5,"v":37.5},{"k":2,"a":8.5,"b":9.5,"v":34},{"k":2,"a":9.5,"b":10.5,"v":6},{"k":2,"a":10.5,"b":11.5,"v":15},{"k":2,"a":12.5,"b":13.5,"v":38},{"k":2,"a":13.5,"b":14.5,"v":29},{"k":2,"a":14.5,"b":15.5,"v":38},{"k":2,"a":15.5,"b":16.5,"v":32},{"k":2,"a":16.5,"b":17.5,"v":37.5},{"k":2,"a":17.5,"b":18.5,"v":30},{"k":2,"a":18.5,"b":19.5,"v":63},{"k":2,"a":19.5,"b":20.5,"v":42},{"k":2,"a":20.5,"b":21.5,"v":30},{"k":2,"a":21.5,"b":22.5,"v":14},{"k":2,"a":22.5,"b":23.5,"v":1.2},{"k":2,"a":24.5,"b":26.5,"v":1.2},{"k":2,"a":30.5,"b":31.5,"v":1.2},{"k":2,"a":31.5,"b":34.5,"v":1},{"k":2,"a":34.5,"b":35.5,"v":1.8},{"k":2,"a":35.5,"b":38.5,"v":1.2},{"k":2,"a":38.5,"b":39.5,"v":4},{"k":2,"a":39.5,"b":42.5,"v":3},{"k":2,"a":42.5,"b":44.5,"v":1.8},{"k":2,"a":44.5,"b":45.5,"v":1.2},{"k":2,"a":87.5,"b":88.5,"v":1},
{"k":1,"a":2.5,"b":3.5,"v":1.5}
]},
"resolve":{"axis":{"x":"independent","y":"independent"}},
"layer":[{"mark":"rect","encoding":{"x":{"field":"a","type":"quantitative","scale":{"domain":[0.5,100.5],"nice":false,"zero":false},"axis":{"values":[20,40,60,80,100],"labelPadding":35,"title":"vertex index,","titleX":456,"titleY":139,"titleBaseline":"alphabetic"}},"x2":{"field":"b"},"y":{"field":"k","type":"ordinal","scale":{"domain":[16,15,14,13,12,11,10,9,8,7,6,5,4,3,2,1],"paddingInner":0,"paddingOuter":0},"axis":{"values":[2,4,6,8,10,12,14,16],"labelPadding":32,"labelAngle":0,"title":"frequency band index,","titleX":-111.5,"titleY":441,"titleAngle":270,"titleBaseline":"alphabetic"}},"color":{"field":"v","type":"quantitative","legend":null,"scale":{"domain":[0,37.5,75,100],"range":["#000000","#ff0000","#ffff00","#ffffff"],"interpolate":"rgb"}}}},
{"data":{"values":[{"t":"m","x":68.5,"k":1}]},"mark":{"type":"text","fontStyle":"italic","fontSize":63.5,"dy":165,"baseline":"alphabetic","color":"#262626"},"encoding":{"text":{"field":"t"},"x":{"field":"x","type":"quantitative","axis":{"orient":"top","values":[20,40,60,80,100],"labels":false,"title":null}},"y":{"field":"k","type":"ordinal","axis":{"orient":"right","values":[2,4,6,8,10,12,14,16],"labels":false,"title":null}}}},
{"data":{"values":[{"t":"k","x":0.5,"k":15}]},"mark":{"type":"text","fontStyle":"italic","fontSize":63.5,"angle":270,"baseline":"alphabetic","dx":-29.75,"dy":-111.5,"color":"#262626"},"encoding":{"text":{"field":"t"},"x":{"field":"x","type":"quantitative","axis":null},"y":{"field":"k","type":"ordinal","axis":null}}},
{"data":{"values":[{"t":"(f)","x":108.9,"k":1}]},"mark":{"type":"text","font":"Open Sans","fontWeight":"bold","fontSize":70,"dy":157,"color":"#000"},"encoding":{"text":{"field":"t"},"x":{"field":"x","type":"quantitative","axis":null},"y":{"field":"k","type":"ordinal","axis":null}}}]}]}
